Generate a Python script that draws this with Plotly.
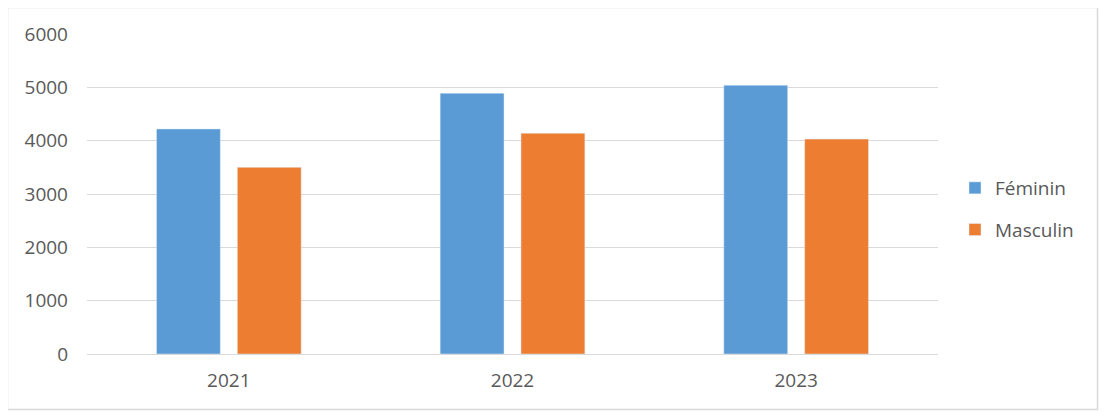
import plotly.graph_objects as go

years = ["2021", "2022", "2023"]
feminin = [4220, 4890, 5040]
masculin = [3500, 4140, 4030]
y_ticks = [0, 1000, 2000, 3000, 4000, 5000, 6000]

# page body has an 8px margin; compensate so window coords match reference
OFF = 8
W, H = 1107 - OFF, 419 - OFF
L, T = 87 - OFF, 34 - OFF
R, B = 1107 - 938, 419 - 354
pw, ph = W - L - R, H - T - B

fig = go.Figure()
fig.add_trace(go.Bar(x=years, y=feminin, name="Féminin", marker_color="#5B9BD5",
                     legendgroup="f"))
fig.add_trace(go.Bar(x=years, y=masculin, name="Masculin", marker_color="#ED7D31",
                     legendgroup="m"))

font = dict(family="Open Sans, Noto Sans, sans-serif", size=19, color="#595959")

def px_x(x):  # window pixel -> paper
    return (x - OFF - L) / pw

def px_y(y):
    return (H - B - (y - OFF)) / ph

fig.add_shape(type="rect", xref="paper", yref="paper",
              x0=px_x(7.5), x1=px_x(1097.5), y0=px_y(409.5), y1=px_y(7.5),
              line=dict(color="#D9D9D9", width=1.5), fillcolor="rgba(0,0,0,0)")

fig.update_layout(
    width=W, height=H,
    margin=dict(l=L, r=R, t=T, b=B, autoexpand=False),
    paper_bgcolor="white", plot_bgcolor="white",
    barmode="group", bargap=0.43, bargroupgap=0.21,
    font=font,
    showlegend=True,
    legend=dict(x=px_x(955), xanchor="left", y=px_y(209), yanchor="middle",
                font=font, tracegroupgap=14, bgcolor="rgba(0,0,0,0)"),
    xaxis=dict(showgrid=False, showline=True, linecolor="#D9D9D9", linewidth=1.3,
               ticks="", tickfont=font, ticklabelstandoff=9),
    yaxis=dict(range=[0, 6000], tickvals=y_ticks, showgrid=True, gridcolor="#D9D9D9",
               gridwidth=1.3, zeroline=False, showline=False, ticks="",
               tickfont=font, ticklabelstandoff=18),
)

fig.write_html("out.html")
